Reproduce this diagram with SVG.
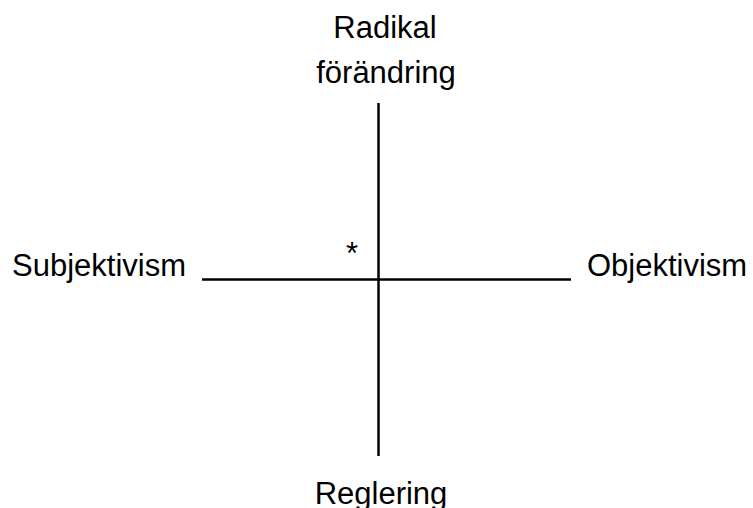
<svg xmlns="http://www.w3.org/2000/svg" width="753" height="508" viewBox="0 0 753 508">
<style>
text{font-family:"Liberation Sans",Arial,sans-serif;font-size:31px;fill:#000}
.ax{stroke:#000;stroke-width:2.5;fill:none}
</style>
<rect width="753" height="508" fill="#fff"/>
<g id="connectors">
<line class="ax" x1="378.5" y1="103" x2="378.5" y2="456"/>
<line class="ax" x1="202" y1="279.5" x2="571" y2="279.5"/>
</g>
<g id="top"><text x="385" y="38" text-anchor="middle">Radikal</text><text x="386" y="83" text-anchor="middle">förändring</text></g>
<g id="bottom"><text x="381" y="504" text-anchor="middle">Reglering</text></g>
<g id="left"><text x="12" y="276">Subjektivism</text></g>
<g id="right"><text x="587" y="276">Objektivism</text></g>
<g id="mark"><text x="352" y="264" text-anchor="middle">*</text></g>
</svg>
